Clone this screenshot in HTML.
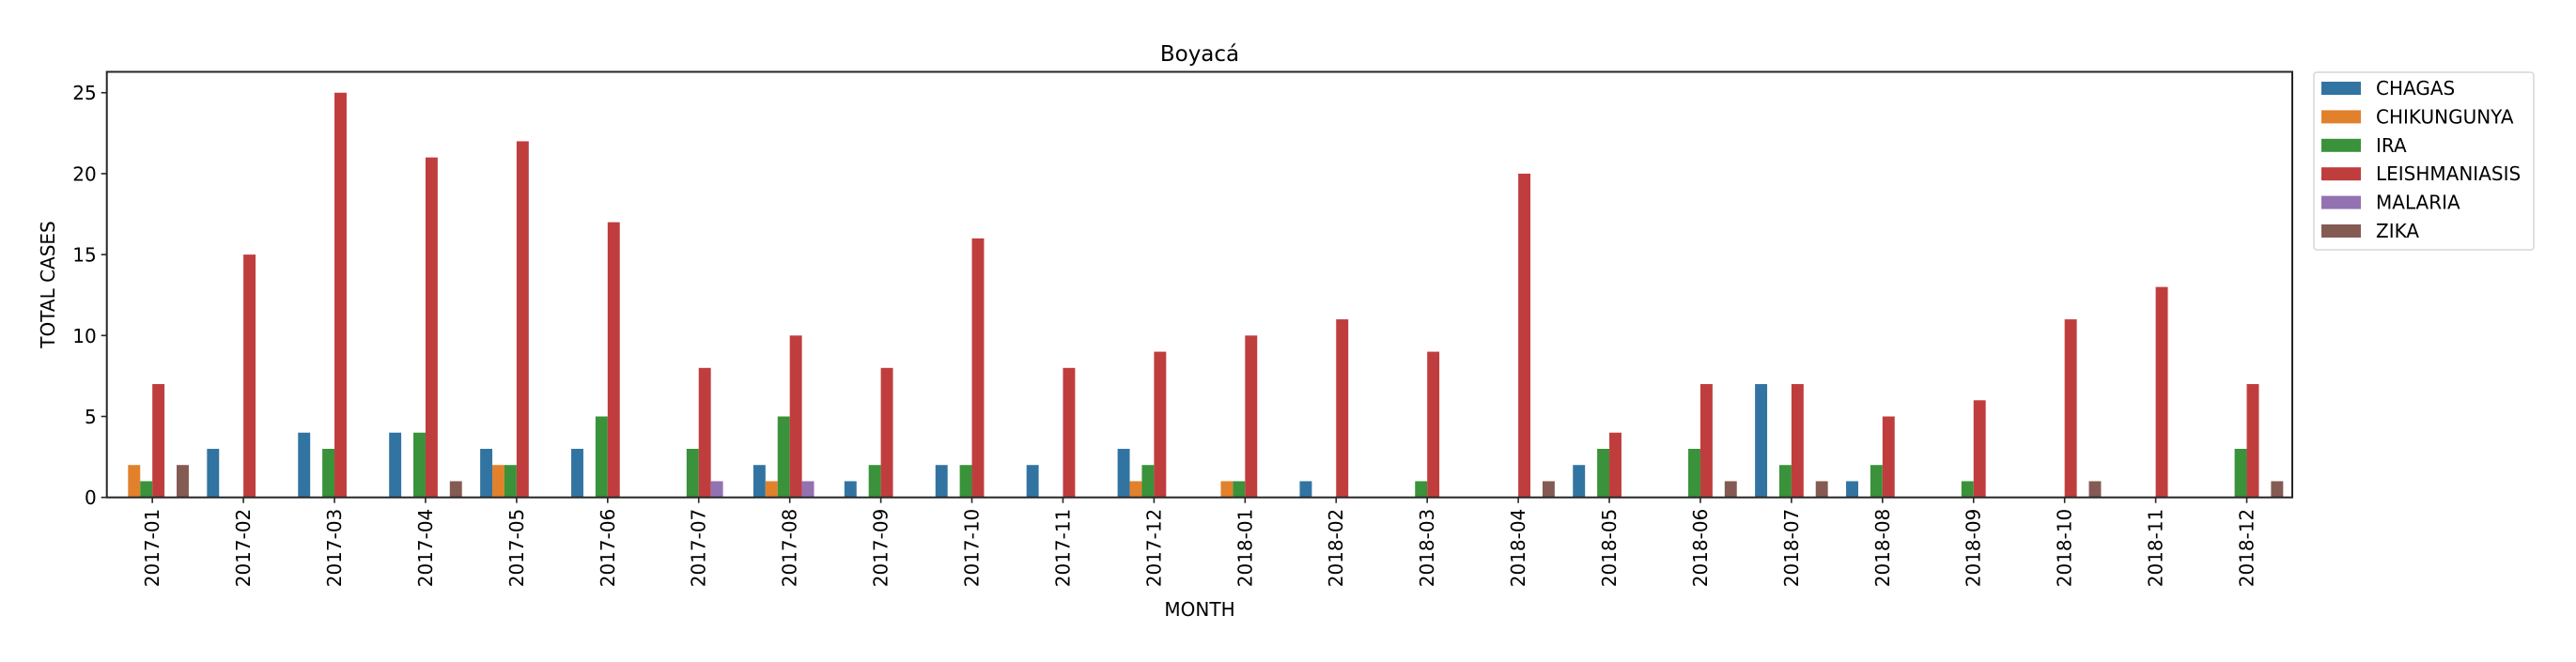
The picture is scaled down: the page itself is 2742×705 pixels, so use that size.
<!DOCTYPE html>
<html><head><meta charset="utf-8"><style>
body{margin:0;background:#fff;}
svg{display:block;font-family:"DejaVu Sans","Liberation Sans",sans-serif;}
</style></head><body>
<svg id="chart" width="2742" height="705" viewBox="0 0 2742 705">
<text x="1277" y="65" font-size="23" text-anchor="middle">Boyacá</text>
<g id="plot"></g>
<g id="axes"></g>
<text x="1277" y="656" font-size="20" text-anchor="middle">MONTH</text>
<text transform="translate(58,303) rotate(-90)" font-size="20" text-anchor="middle">TOTAL CASES</text>
<g id="legend"></g>
</svg>
<script>
const months=["2017-01","2017-02","2017-03","2017-04","2017-05","2017-06","2017-07","2017-08","2017-09","2017-10","2017-11","2017-12","2018-01","2018-02","2018-03","2018-04","2018-05","2018-06","2018-07","2018-08","2018-09","2018-10","2018-11","2018-12"];
const seriesNames=["CHAGAS","CHIKUNGUNYA","IRA","LEISHMANIASIS","MALARIA","ZIKA"];
const chagas=[0,3,4,4,3,3,0,2,1,2,2,3,0,1,0,0,2,0,7,1,0,0,0,0];
const chikungunya=[2,0,0,0,2,0,0,1,0,0,0,1,1,0,0,0,0,0,0,0,0,0,0,0];
const ira=[1,0,3,4,2,5,3,5,2,2,0,2,1,0,1,0,3,3,2,2,1,0,0,3];
const leishmaniasis=[7,15,25,21,22,17,8,10,8,16,8,9,10,11,9,20,4,7,7,5,6,11,13,7];
const malaria=[0,0,0,0,0,0,1,1,0,0,0,0,0,0,0,0,0,0,0,0,0,0,0,0];
const zika=[2,0,0,1,0,0,0,0,0,0,0,0,0,0,0,1,0,1,1,0,0,1,0,1];
const yTicks=[0,5,10,15,20,25];
const colors=["#3274a1","#e1812c","#3a923a","#c03d3e","#9372b2","#845b53"];
const series=[chagas,chikungunya,ira,leishmaniasis,malaria,zika];
const NS="http://www.w3.org/2000/svg";
const L=113.7,R=2440,T=76.5,B=529.7,yMax=26.29;
const cw=(R-L)/months.length,bw=cw*0.8/series.length;
const xc=i=>L+cw*(i+0.5);
const y=v=>B-(B-T)*v/yMax;
function mk(tag,attrs,parent){const e=document.createElementNS(NS,tag);for(const k in attrs)e.setAttribute(k,attrs[k]);parent.appendChild(e);return e;}
const plot=document.getElementById('plot'),axes=document.getElementById('axes'),leg=document.getElementById('legend');
series.forEach((s,si)=>{s.forEach((v,i)=>{if(v<=0)return;
const r=mk('rect',{x:xc(i)-cw*0.4+si*bw,y:y(v),width:bw,height:B-y(v),fill:colors[si]},plot);

});});
const frame=mk('rect',{x:L,y:T,width:R-L,height:B-T,fill:"none",stroke:"#262626","stroke-width":2},axes);


yTicks.forEach(t=>{const yy=y(t);
mk('line',{x1:L-6,x2:L,y1:yy,y2:yy,stroke:"#262626","stroke-width":1.6},axes);
const tx=mk('text',{x:L-11,y:yy+7.5,"font-size":20,"text-anchor":"end"},axes);tx.textContent=t;

});
months.forEach((m,i)=>{const xx=xc(i);
mk('line',{x1:xx,x2:xx,y1:B,y2:B+6,stroke:"#262626","stroke-width":1.6},axes);
const tx=mk('text',{transform:`translate(${xx+7},${B+12}) rotate(-90)`,"font-size":20,"text-anchor":"end"},axes);tx.textContent=m;

});
mk('rect',{x:2463,y:77,width:234,height:189,rx:3,fill:"#fff",stroke:"#d6d6d6","stroke-width":1.5},leg);
seriesNames.forEach((n,i)=>{const cy=94+i*30.4;
const g=mk('g',{},leg);


mk('rect',{x:2471,y:cy-7,width:42,height:14,fill:colors[i]},g);
const t=mk('text',{x:2529,y:cy+7,"font-size":20},g);t.textContent=n;});
</script>
</body></html>
